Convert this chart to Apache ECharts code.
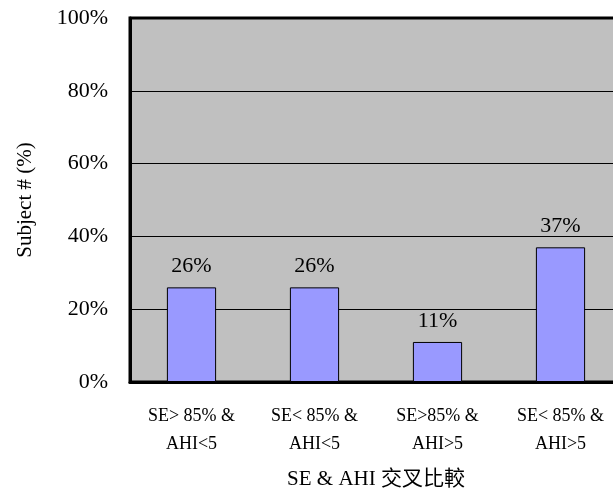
<!DOCTYPE html>
<html>
<head>
<meta charset="utf-8">
<script src="https://cdn.jsdelivr.net/npm/echarts@6/dist/echarts.min.js"></script>
<style>
html,body{margin:0;padding:0;background:#fff;}
#main{width:613px;height:497px;}
</style>
</head>
<body>
<div id="main"></div>
<script>
const categories = ['SE> 85% &\nAHI<5', 'SE< 85% &\nAHI<5', 'SE>85% &\nAHI>5', 'SE< 85% &\nAHI>5'];
const values = [26, 26, 11, 37];
const yTicks = [0, 20, 40, 60, 80, 100];
const xTitle = 'SE & AHI 交叉比較';
const yTitle = 'Subject # (%)';

const serif = '"Liberation Serif", "DejaVu Serif", "Noto Sans CJK TC", serif';
const chart = echarts.init(document.getElementById('main'), null, {renderer: 'canvas'});
chart.setOption({
  animation: false,
  backgroundColor: '#ffffff',
  grid: {
    left: 130, top: 18, right: -9, bottom: 115,
    outerBoundsMode: 'none',
    containLabel: false,
    show: true, backgroundColor: '#c0c0c0', borderColor: '#000', borderWidth: 3
  },
  xAxis: {
    type: 'category',
    data: categories,
    name: xTitle,
    nameLocation: 'middle',
    nameGap: 87,
    nameTextStyle: {fontFamily: serif, fontSize: 21, color: '#000'},
    axisLine: {lineStyle: {color: '#000', width: 3}},
    axisTick: {inside: true, length: 5, lineStyle: {color: '#000', width: 1}},
    axisLabel: {fontFamily: serif, fontSize: 18, color: '#000', margin: 20, lineHeight: 28, interval: 0}
  },
  yAxis: {
    type: 'value',
    min: yTicks[0],
    max: yTicks[yTicks.length - 1],
    interval: 20,
    name: yTitle,
    nameLocation: 'middle',
    nameGap: 94,
    nameRotate: 90,
    nameTextStyle: {fontFamily: serif, fontSize: 21, color: '#000'},
    axisLine: {show: true, lineStyle: {color: '#000', width: 3}},
    axisTick: {show: false},
    splitLine: {show: true, lineStyle: {color: '#000', width: 1}},
    axisLabel: {fontFamily: serif, fontSize: 22, color: '#000', margin: 22, formatter: '{value}%'}
  },
  series: [{
    type: 'bar',
    data: values,
    barWidth: '40%',
    itemStyle: {color: '#9999ff', borderColor: '#000', borderWidth: 1},
    label: {show: true, position: 'top', distance: 10, formatter: '{c}%', fontFamily: serif, fontSize: 22, color: '#000'}
  }]
});
</script>
</body>
</html>
